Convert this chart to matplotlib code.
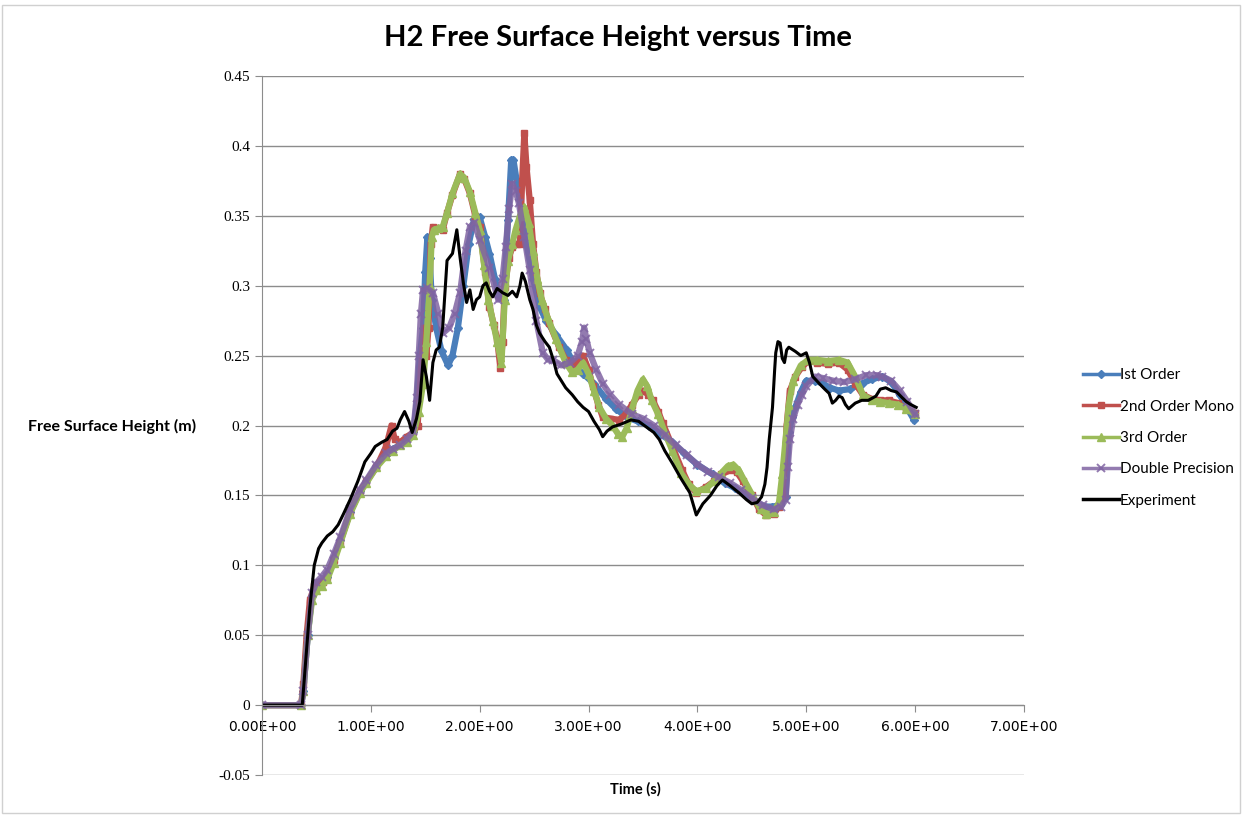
import matplotlib
matplotlib.use('Agg')
import matplotlib.pyplot as plt
from matplotlib.patches import Rectangle
from matplotlib.ticker import FixedLocator

# time (s) / free surface height (m) for each run
t_first = [0.0, 0.36, 0.38, 0.42, 0.46, 0.50, 0.55, 0.60, 0.66, 0.72, 0.81, 0.90, 0.96, 1.05, 1.14,
           1.20, 1.27, 1.33, 1.39, 1.42, 1.45, 1.48, 1.50, 1.52, 1.54, 1.56, 1.60, 1.65, 1.71, 1.75,
           1.80, 1.85, 1.90, 1.95, 2.00, 2.05, 2.09, 2.14, 2.18, 2.22, 2.26, 2.29, 2.31, 2.35, 2.39,
           2.43, 2.49, 2.55, 2.61, 2.70, 2.80, 2.88, 2.95, 3.05, 3.16, 3.25, 3.35, 3.45, 3.56, 3.66,
           3.77, 3.88, 4.00, 4.14, 4.25, 4.35, 4.45, 4.54, 4.62, 4.69, 4.76, 4.81, 4.84, 4.87, 4.90,
           4.95, 5.00, 5.08, 5.15, 5.22, 5.30, 5.40, 5.51, 5.60, 5.70, 5.78, 5.86, 5.93, 5.99]
h_first = [0.0, 0.0, 0.01, 0.05, 0.078, 0.085, 0.088, 0.092, 0.105, 0.118, 0.138, 0.153, 0.160, 0.171, 0.179,
           0.183, 0.186, 0.190, 0.195, 0.215, 0.25, 0.27, 0.31, 0.335, 0.32, 0.29, 0.27, 0.253, 0.243, 0.25,
           0.27, 0.30, 0.33, 0.348, 0.349, 0.335, 0.323, 0.305, 0.292, 0.290, 0.347, 0.390, 0.390, 0.37, 0.35,
           0.330, 0.305, 0.285, 0.275, 0.265, 0.254, 0.242, 0.237, 0.230, 0.219, 0.212, 0.206, 0.203, 0.200, 0.194,
           0.188, 0.180, 0.172, 0.165, 0.159, 0.155, 0.150, 0.145, 0.142, 0.142, 0.143, 0.149, 0.195, 0.206, 0.213,
           0.224, 0.232, 0.232, 0.230, 0.227, 0.225, 0.226, 0.230, 0.233, 0.235, 0.231, 0.222, 0.212, 0.204]

t_second = [0.0, 0.36, 0.38, 0.41, 0.44, 0.48, 0.52, 0.56, 0.60, 0.66, 0.72, 0.81, 0.90, 0.96, 1.05,
            1.14, 1.19, 1.22, 1.27, 1.33, 1.39, 1.43, 1.46, 1.49, 1.51, 1.53, 1.55, 1.57, 1.62, 1.66,
            1.70, 1.75, 1.82, 1.86, 1.91, 1.96, 2.00, 2.05, 2.09, 2.13, 2.16, 2.19, 2.21, 2.23, 2.27,
            2.30, 2.34, 2.37, 2.39, 2.41, 2.43, 2.46, 2.49, 2.52, 2.55, 2.60, 2.64, 2.73, 2.79, 2.85,
            2.90, 2.95, 3.00, 3.04, 3.09, 3.13, 3.20, 3.28, 3.34, 3.40, 3.46, 3.50, 3.55, 3.59, 3.64,
            3.68, 3.77, 3.86, 3.92, 3.99, 4.08, 4.15, 4.22, 4.30, 4.36, 4.42, 4.50, 4.57, 4.63, 4.70,
            4.75, 4.78, 4.80, 4.82, 4.85, 4.90, 4.96, 5.02, 5.10, 5.20, 5.30, 5.38, 5.45, 5.52, 5.60,
            5.68, 5.76, 5.84, 5.92, 6.00]
h_second = [0.0, 0.0, 0.015, 0.05, 0.075, 0.085, 0.088, 0.088, 0.092, 0.104, 0.117, 0.138, 0.153, 0.160, 0.170,
            0.185, 0.200, 0.190, 0.188, 0.192, 0.195, 0.20, 0.24, 0.27, 0.25, 0.27, 0.33, 0.342, 0.341, 0.340,
            0.352, 0.365, 0.380, 0.376, 0.366, 0.350, 0.342, 0.310, 0.285, 0.272, 0.262, 0.241, 0.260, 0.299, 0.320,
            0.328, 0.330, 0.330, 0.375, 0.409, 0.385, 0.361, 0.330, 0.310, 0.295, 0.283, 0.273, 0.256, 0.247, 0.242,
            0.246, 0.250, 0.240, 0.228, 0.215, 0.206, 0.205, 0.204, 0.208, 0.215, 0.222, 0.225, 0.222, 0.218, 0.210,
            0.202, 0.185, 0.168, 0.158, 0.152, 0.156, 0.160, 0.165, 0.168, 0.167, 0.160, 0.150, 0.140, 0.136, 0.137,
            0.142, 0.15, 0.17, 0.20, 0.225, 0.235, 0.242, 0.246, 0.245, 0.244, 0.245, 0.24, 0.23, 0.222, 0.219,
            0.218, 0.218, 0.216, 0.212, 0.209]

t_third = [0.0, 0.36, 0.38, 0.42, 0.46, 0.50, 0.55, 0.60, 0.66, 0.72, 0.81, 0.90, 0.96, 1.05, 1.14,
           1.20, 1.27, 1.33, 1.39, 1.44, 1.48, 1.51, 1.54, 1.56, 1.58, 1.62, 1.66, 1.70, 1.75, 1.82,
           1.86, 1.91, 1.96, 2.00, 2.04, 2.08, 2.12, 2.16, 2.20, 2.23, 2.26, 2.30, 2.33, 2.37, 2.41,
           2.45, 2.49, 2.53, 2.57, 2.62, 2.70, 2.79, 2.85, 2.90, 2.95, 3.00, 3.05, 3.10, 3.16, 3.22,
           3.27, 3.31, 3.35, 3.40, 3.45, 3.50, 3.54, 3.58, 3.64, 3.70, 3.77, 3.85, 3.92, 3.99, 4.08,
           4.15, 4.22, 4.28, 4.33, 4.38, 4.45, 4.52, 4.58, 4.63, 4.70, 4.75, 4.78, 4.81, 4.84, 4.88,
           4.95, 5.02, 5.10, 5.20, 5.30, 5.38, 5.45, 5.52, 5.60, 5.68, 5.76, 5.84, 5.92, 6.00]
h_third = [0.0, 0.0, 0.01, 0.05, 0.075, 0.082, 0.085, 0.090, 0.102, 0.116, 0.137, 0.152, 0.159, 0.170, 0.178,
           0.182, 0.186, 0.188, 0.193, 0.21, 0.23, 0.26, 0.30, 0.335, 0.340, 0.341, 0.342, 0.352, 0.366, 0.380,
           0.377, 0.367, 0.352, 0.340, 0.315, 0.290, 0.275, 0.260, 0.245, 0.290, 0.318, 0.330, 0.340, 0.350, 0.356,
           0.345, 0.325, 0.305, 0.290, 0.278, 0.262, 0.245, 0.238, 0.240, 0.245, 0.237, 0.225, 0.213, 0.205, 0.200,
           0.194, 0.192, 0.198, 0.212, 0.225, 0.233, 0.228, 0.218, 0.208, 0.195, 0.182, 0.166, 0.158, 0.153, 0.155,
           0.160, 0.166, 0.171, 0.172, 0.168, 0.158, 0.148, 0.140, 0.137, 0.138, 0.145, 0.165, 0.19, 0.215, 0.232,
           0.243, 0.247, 0.247, 0.246, 0.247, 0.245, 0.235, 0.222, 0.218, 0.217, 0.216, 0.215, 0.212, 0.208]

t_double = [0.0, 0.36, 0.38, 0.42, 0.46, 0.50, 0.55, 0.60, 0.66, 0.72, 0.81, 0.90, 0.96, 1.05, 1.14,
            1.20, 1.27, 1.33, 1.39, 1.42, 1.44, 1.46, 1.48, 1.52, 1.57, 1.62, 1.66, 1.72, 1.77, 1.82,
            1.87, 1.91, 1.95, 2.00, 2.09, 2.17, 2.21, 2.24, 2.27, 2.30, 2.33, 2.36, 2.41, 2.46, 2.52,
            2.58, 2.63, 2.67, 2.75, 2.83, 2.90, 2.94, 2.96, 2.98, 3.01, 3.07, 3.13, 3.20, 3.28, 3.40,
            3.50, 3.60, 3.70, 3.80, 3.90, 4.00, 4.10, 4.20, 4.30, 4.40, 4.50, 4.60, 4.70, 4.77, 4.81,
            4.83, 4.85, 4.88, 4.92, 4.96, 5.00, 5.08, 5.15, 5.25, 5.35, 5.45, 5.55, 5.65, 5.70, 5.78,
            5.86, 5.93, 6.00]
h_double = [0.0, 0.0, 0.01, 0.05, 0.08, 0.088, 0.092, 0.097, 0.108, 0.120, 0.140, 0.154, 0.161, 0.172, 0.180,
            0.183, 0.186, 0.190, 0.196, 0.22, 0.25, 0.28, 0.297, 0.298, 0.295, 0.28, 0.266, 0.27, 0.28, 0.295,
            0.325, 0.342, 0.345, 0.333, 0.313, 0.290, 0.305, 0.328, 0.355, 0.373, 0.368, 0.359, 0.335, 0.311, 0.275,
            0.252, 0.247, 0.247, 0.243, 0.245, 0.250, 0.260, 0.270, 0.262, 0.252, 0.240, 0.230, 0.222, 0.215, 0.208,
            0.205, 0.200, 0.193, 0.186, 0.179, 0.172, 0.167, 0.163, 0.159, 0.154, 0.148, 0.143, 0.140, 0.142, 0.147,
            0.17, 0.19, 0.205, 0.215, 0.222, 0.228, 0.235, 0.234, 0.232, 0.231, 0.233, 0.236, 0.236, 0.235, 0.232,
            0.225, 0.217, 0.208]

t_exp = [0.0, 0.36, 0.37, 0.40, 0.44, 0.48, 0.52, 0.55, 0.60, 0.65, 0.70, 0.75, 0.81, 0.88, 0.945,
         1.00, 1.04, 1.10, 1.15, 1.20, 1.24, 1.27, 1.31, 1.35, 1.38, 1.42, 1.45, 1.48, 1.51, 1.54,
         1.57, 1.60, 1.63, 1.66, 1.70, 1.75, 1.79, 1.82, 1.85, 1.88, 1.91, 1.94, 1.97, 2.00, 2.03,
         2.06, 2.09, 2.12, 2.16, 2.21, 2.26, 2.30, 2.34, 2.37, 2.39, 2.42, 2.46, 2.49, 2.52, 2.55,
         2.60, 2.64, 2.68, 2.71, 2.75, 2.79, 2.85, 2.90, 2.95, 3.00, 3.05, 3.10, 3.13, 3.17, 3.22,
         3.30, 3.39, 3.46, 3.53, 3.60, 3.65, 3.70, 3.77, 3.85, 3.93, 3.96, 3.99, 4.02, 4.05, 4.12,
         4.18, 4.23, 4.30, 4.38, 4.45, 4.50, 4.55, 4.59, 4.62, 4.64, 4.66, 4.69, 4.71, 4.72, 4.74,
         4.76, 4.78, 4.80, 4.82, 4.84, 4.90, 4.95, 5.00, 5.03, 5.06, 5.12, 5.17, 5.21, 5.24, 5.27,
         5.30, 5.33, 5.36, 5.39, 5.45, 5.51, 5.57, 5.64, 5.68, 5.73, 5.78, 5.83, 5.88, 5.92, 5.96,
         6.01]
h_exp = [0.0, 0.0, 0.0, 0.03, 0.07, 0.10, 0.112, 0.116, 0.121, 0.124, 0.129, 0.137, 0.147, 0.160, 0.174,
         0.180, 0.185, 0.188, 0.190, 0.196, 0.198, 0.204, 0.210, 0.203, 0.195, 0.205, 0.217, 0.247, 0.235, 0.218,
         0.245, 0.254, 0.256, 0.270, 0.318, 0.323, 0.340, 0.320, 0.302, 0.288, 0.297, 0.283, 0.290, 0.292, 0.300,
         0.302, 0.296, 0.292, 0.298, 0.295, 0.293, 0.296, 0.292, 0.300, 0.309, 0.303, 0.290, 0.283, 0.272, 0.266,
         0.260, 0.256, 0.246, 0.237, 0.232, 0.227, 0.222, 0.217, 0.213, 0.210, 0.203, 0.197, 0.192, 0.196, 0.199,
         0.201, 0.204, 0.203, 0.199, 0.195, 0.190, 0.182, 0.173, 0.162, 0.152, 0.144, 0.136, 0.140, 0.144, 0.150,
         0.157, 0.161, 0.157, 0.152, 0.147, 0.144, 0.145, 0.149, 0.158, 0.170, 0.190, 0.213, 0.240, 0.252, 0.260,
         0.259, 0.248, 0.245, 0.254, 0.256, 0.253, 0.250, 0.252, 0.245, 0.235, 0.230, 0.226, 0.223, 0.216, 0.218,
         0.221, 0.220, 0.215, 0.212, 0.216, 0.218, 0.218, 0.221, 0.226, 0.227, 0.225, 0.224, 0.220, 0.217, 0.215,
         0.213]

x_ticks = [0, 1, 2, 3, 4, 5, 6, 7]
x_tick_labels = ['0.00E+00', '1.00E+00', '2.00E+00', '3.00E+00', '4.00E+00', '5.00E+00', '6.00E+00', '7.00E+00']
y_ticks = [-0.05, 0, 0.05, 0.1, 0.15, 0.2, 0.25, 0.3, 0.35, 0.4, 0.45]
y_tick_labels = ['-0.05', '0', '0.05', '0.1', '0.15', '0.2', '0.25', '0.3', '0.35', '0.4', '0.45']

sans = ['Lato', 'DejaVu Sans']
serif = ['Liberation Serif', 'DejaVu Serif']

fig = plt.figure(figsize=(12.44, 8.16), dpi=100)
fig.patches.append(Rectangle((0.002, 0.004), 0.995, 0.99, transform=fig.transFigure,
                             fill=False, edgecolor='#d0d0d0', linewidth=1))
ax = fig.add_axes([0.2106, 0.0502, 0.6125, 0.8567])

ax.plot(t_first, h_first, color='#4a7ebb', lw=4.5, marker='D', ms=4.5, label='Ist Order')
ax.plot(t_second, h_second, color='#c0504d', lw=4.5, marker='s', ms=5, label='2nd Order Mono')
ax.plot(t_third, h_third, color='#9bbb59', lw=4.5, marker='^', ms=5.5, label='3rd Order')
ax.plot(t_double, h_double, color='#8064a2', lw=4.5, marker='x', ms=6, mew=1.4, alpha=0.85,
        label='Double Precision')
ax.plot(t_exp, h_exp, color='black', lw=2.2, label='Experiment')

ax.set_xlim(0, 7)
ax.set_ylim(-0.05, 0.45)
ax.xaxis.set_major_locator(FixedLocator(x_ticks))
ax.set_xticklabels(x_tick_labels, family=serif, fontsize=11)
ax.yaxis.set_major_locator(FixedLocator(y_ticks))
ax.set_yticklabels(y_tick_labels, family=serif, fontsize=11)

ax.grid(axis='y', color='#8c8c8c', lw=1)
ax.set_axisbelow(True)
for s in ['top', 'right']:
    ax.spines[s].set_visible(False)
ax.spines['bottom'].set_position(('data', 0))
ax.spines['bottom'].set_color('#8c8c8c')
ax.spines['left'].set_color('#8c8c8c')
ax.tick_params(axis='both', color='#8c8c8c', length=5, direction='out')
ax.tick_params(axis='x', pad=6)

fig.text(0.4965, 0.953, 'H2 Free Surface Height versus Time', ha='center', va='center',
         family=sans, fontsize=21, fontweight='bold')
fig.text(0.09, 1 - 426 / 816, 'Free Surface Height (m)', ha='center', va='center',
         family=sans, fontsize=11.5, fontweight='bold')
fig.text(0.511, 1 - 789 / 816, 'Time (s)', ha='center', va='center',
         family=sans, fontsize=10.5, fontweight='bold')

leg = fig.legend(loc='center left', bbox_to_anchor=(0.866, 1 - 438 / 816), frameon=False,
                 prop={'family': sans, 'size': 11}, handlelength=2.3, handletextpad=0.1,
                 labelspacing=1.13, borderaxespad=0)
for line in leg.get_lines():
    line.set_linewidth(2.5)

fig.savefig('out.png', dpi=100)
